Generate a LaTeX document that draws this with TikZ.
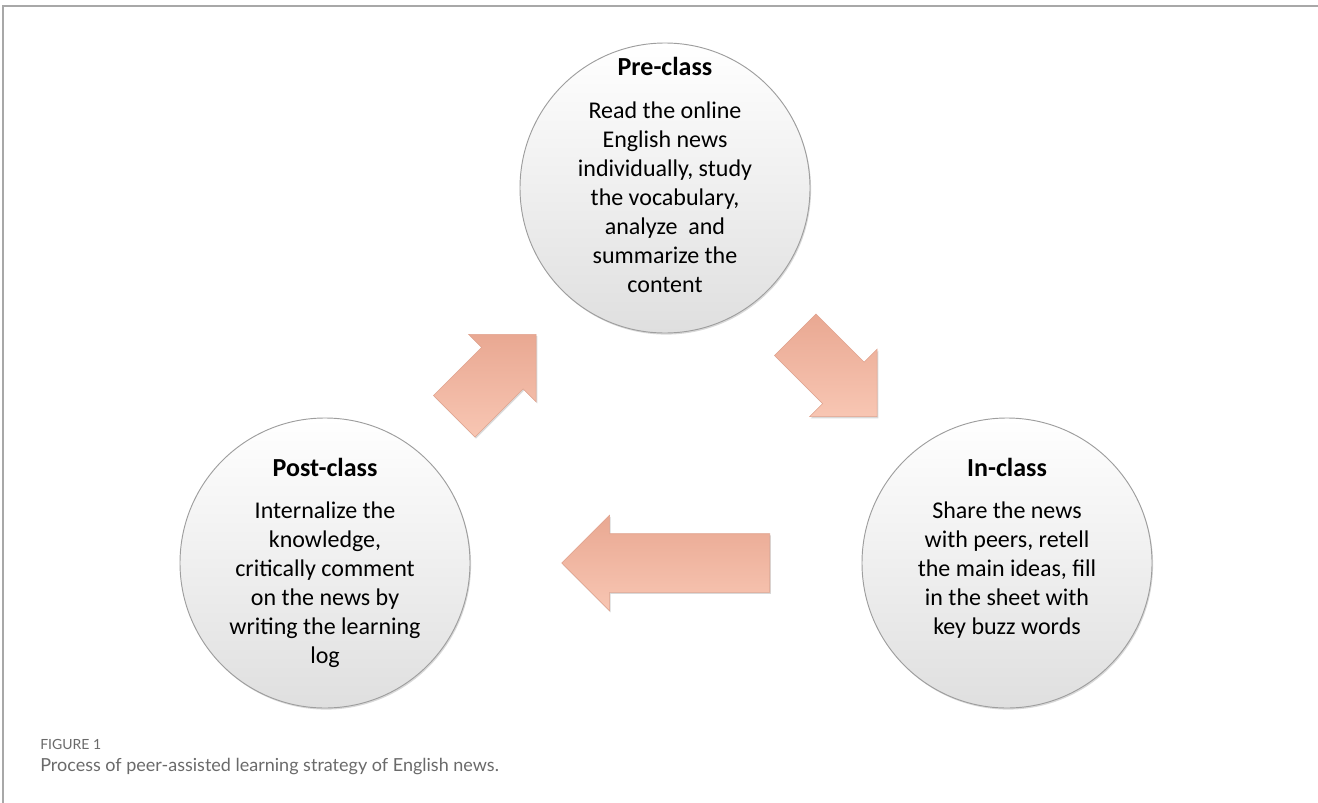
\documentclass[tikz,border=0pt]{standalone}
\usepackage{fontspec}
\setmainfont{Carlito}
\newfontfamily\capfont{Lato}
\usetikzlibrary{shapes.arrows,shadows,calc}
\definecolor{arrowtop}{HTML}{E9A892}
\definecolor{arrowbot}{HTML}{F8C6B3}
\definecolor{arrowrim}{HTML}{E0A28D}
\definecolor{ballrim}{HTML}{9E9E9E}
\definecolor{ballbot}{HTML}{DFDFDF}
\definecolor{capgray}{HTML}{6A6A6A}
\definecolor{framegray}{HTML}{A8A8A8}
\begin{document}
\begin{tikzpicture}[x=0.75pt,y=-0.75pt,
  stage/.style={circle,draw=ballrim,line width=0.7pt,minimum size=217.5pt,inner sep=0pt,
    top color=white,middle color=white,bottom color=ballbot,
    drop shadow={shadow xshift=0.8pt,shadow yshift=-1.2pt,opacity=0.3}},
  stagetext/.style={align=center,font=\fontsize{18}{21.75}\selectfont},
  flow/.style={single arrow,single arrow tip angle=90,single arrow head extend=13.9pt,
    inner xsep=0pt,inner ysep=21.75pt,minimum width=0pt,anchor=tail,draw=arrowrim,line width=0.4pt,
    top color=arrowtop,bottom color=arrowbot,
    drop shadow={shadow xshift=0.8pt,shadow yshift=-1.2pt,opacity=0.3}}]
 \useasboundingbox (0,0) rectangle (1318,803);
 \draw[framegray,line width=1.1pt] (1318,6) -- (3,6) -- (3,803);
 \node[stage] (pre) at (665,188) {};
 \node[stage] (post) at (325,563) {};
 \node[stage] (in) at (1007,563) {};
 \node[stagetext] (pretext) at ([yshift=9.75pt]pre) {{\fontsize{19.5}{22}\selectfont\bfseries Pre-class}\\[10pt]
   Read the online\\English news\\individually, study\\the vocabulary,\\analyze\ \ and\\summarize the\\content};
 \node[stagetext] (posttext) at (post) {{\fontsize{19.5}{22}\selectfont\bfseries Post-class}\\[10pt]
   Internalize the\\knowledge,\\critically comment\\on the news by\\writing the learning\\log};
 \node[stagetext] (intext) at ([yshift=11.25pt]in) {{\fontsize{19.5}{22}\selectfont\bfseries In-class}\\[10pt]
   Share the news\\with peers, retell\\the main ideas, fill\\in the sheet with\\key buzz words};
 \node[flow,minimum height=87pt,rotate=45] (up) at ($(post)!0.5!(pre)+(-41,41)$) {};
 \node[flow,minimum height=87pt,rotate=-45] (down) at ($(pre)!0.5!(in)+(-41,-41)$) {};
 \node[flow,minimum height=156pt,rotate=180] (back) at ($(in)!0.5!(post)+(104,0)$) {};
 \node[anchor=west,font=\capfont\fontsize{10.5}{12}\selectfont,text=capgray,inner sep=0pt] (fig) at (40,744) {FIGURE 1};
 \node[anchor=west,font=\capfont\fontsize{13.5}{16}\selectfont,text=capgray,inner sep=0pt] (cap) at (40,767) {Process of peer-assisted learning strategy of English news.};
\end{tikzpicture}
\end{document}
